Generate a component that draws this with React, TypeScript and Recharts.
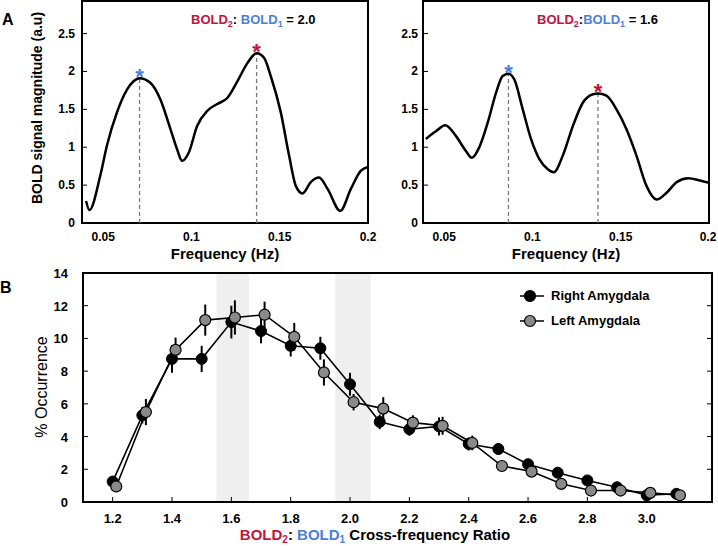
import React from "react";
import {
  ComposedChart,
  Line,
  XAxis,
  YAxis,
  ReferenceArea,
  ReferenceLine,
  ReferenceDot,
  ErrorBar,
  Legend,
} from "recharts";

const FONT = "Arial, 'Liberation Sans', Helvetica, sans-serif";
const RED = "#c0143c";
const BLUE = "#4a80d6";

// panel A, left spectrum (BOLD2:BOLD1 = 2.0)
const leftFreq = [
  0.0403, 0.0422, 0.0483, 0.0521, 0.0578, 0.0635, 0.0672, 0.0706, 0.0767, 0.0824,
  0.0881, 0.0919, 0.0947, 0.0985, 0.1032, 0.1089, 0.1146, 0.1203, 0.126, 0.1317,
  0.1369, 0.1411, 0.1449, 0.1506, 0.1553, 0.1591, 0.1629, 0.1676, 0.1723, 0.1771,
  0.1843, 0.1903, 0.196, 0.2,
];
const leftMag = [
  0.29, 0.17, 0.62, 1.02, 1.46, 1.76, 1.87, 1.91, 1.85, 1.63,
  1.24, 0.97, 0.82, 0.93, 1.28, 1.48, 1.57, 1.65, 1.87, 2.11,
  2.24, 2.18, 1.94, 1.46, 0.89, 0.49, 0.39, 0.54, 0.6, 0.45,
  0.16, 0.45, 0.69, 0.74,
];
const leftPeakFreq = [0.0706, 0.1369];
const leftPeakMag = [1.91, 2.24];

// panel A, right spectrum (BOLD2:BOLD1 = 1.6)
const rightFreq = [
  0.0396, 0.0453, 0.0506, 0.0566, 0.0623, 0.0657, 0.0699, 0.0746, 0.0794, 0.0831,
  0.0864, 0.0898, 0.0945, 0.0993, 0.104, 0.1087, 0.1121, 0.1172, 0.1229, 0.1286,
  0.1343, 0.1371, 0.1419, 0.1476, 0.1532, 0.1589, 0.1646, 0.1703, 0.176, 0.1817,
  0.1882, 0.1949, 0.2,
];
const rightMag = [
  1.11, 1.21, 1.29, 1.15, 0.95, 0.86, 1.0, 1.32, 1.72, 1.94,
  1.97, 1.89, 1.5, 1.1, 0.84, 0.71, 0.67, 0.89, 1.28, 1.59,
  1.7, 1.71, 1.68, 1.5, 1.24, 0.89, 0.49, 0.31, 0.4, 0.54,
  0.59, 0.56, 0.53,
];
const rightPeakFreq = [0.0864, 0.1371];
const rightPeakMag = [1.97, 1.71];

const peakColors = [BLUE, RED];
const freqTicks = [0.05, 0.1, 0.15, 0.2];
const magTicks = [0, 0.5, 1, 1.5, 2, 2.5];

// panel B
const ratioRight = [1.2, 1.3, 1.4, 1.5, 1.6, 1.7, 1.8, 1.9, 2.0, 2.1, 2.2, 2.3, 2.4, 2.5, 2.6, 2.7, 2.8, 2.9, 3.0, 3.1];
const occRight = [1.25, 5.3, 8.75, 8.75, 11.0, 10.45, 9.55, 9.4, 7.2, 4.9, 4.45, 4.62, 3.55, 3.24, 2.31, 1.79, 1.32, 0.9, 0.41, 0.5];
const errRight = [0.3, 0.5, 0.85, 0.8, 1.0, 0.75, 0.65, 0.7, 0.7, 0.45, 0.4, 0.55, 0.4, 0.35, 0.25, 0.2, 0.15, 0.15, 0.1, 0.1];
const ratioLeft = [1.212, 1.312, 1.412, 1.512, 1.612, 1.712, 1.812, 1.912, 2.012, 2.112, 2.212, 2.312, 2.412, 2.512, 2.612, 2.712, 2.812, 2.912, 3.012, 3.112];
const occLeft = [0.95, 5.5, 9.3, 11.12, 11.28, 11.45, 10.1, 7.92, 6.1, 5.71, 4.85, 4.66, 3.61, 2.2, 1.86, 1.11, 0.7, 0.7, 0.56, 0.41];
const errLeft = [0.2, 0.8, 0.75, 0.95, 1.05, 0.8, 0.85, 0.8, 0.5, 0.7, 0.45, 0.55, 0.45, 0.2, 0.2, 0.15, 0.1, 0.1, 0.1, 0.1];
const bandStart = [1.55, 1.95];
const bandEnd = [1.66, 2.07];
const ratioTicks = [1.2, 1.4, 1.6, 1.8, 2.0, 2.2, 2.4, 2.6, 2.8, 3.0];
const occTicks = [0, 2, 4, 6, 8, 10, 12, 14];
const legendNames = ["Right Amygdala", "Left Amygdala"];
const legendFills = ["#000000", "#8a8a8a"];

const B_RIGHT = 712;

function freqTick({ x, y, payload }: any) {
  return (
    <text x={x} y={y + 18} textAnchor="middle" fontSize={12} fontWeight="bold" fontFamily={FONT} fill="#000">
      {String(payload.value)}
    </text>
  );
}

function magTick(gap: number) {
  return ({ x, y, payload }: any) => (
    <g>
      <line x1={x} x2={x + 5} y1={y} y2={y} stroke="#000" strokeWidth={1} />
      <text x={x - gap} y={y + 4} textAnchor="end" fontSize={12} fontWeight="bold" fontFamily={FONT} fill="#000">
        {String(payload.value)}
      </text>
    </g>
  );
}

function occTick({ x, y, payload }: any) {
  return (
    <g>
      <line x1={x} x2={x + 5} y1={y} y2={y} stroke="#000" strokeWidth={1} />
      <line x1={B_RIGHT - 5} x2={B_RIGHT} y1={y} y2={y} stroke="#000" strokeWidth={1} />
      <text x={x - 15} y={y + 5} textAnchor="end" fontSize={13} fontWeight="bold" fontFamily={FONT} fill="#000">
        {String(payload.value)}
      </text>
    </g>
  );
}

function ratioTick({ x, y, payload }: any) {
  return (
    <g>
      <line x1={x} x2={x} y1={y} y2={y - 5} stroke="#000" strokeWidth={1} />
      <text x={x} y={y + 21} textAnchor="middle" fontSize={13} fontWeight="bold" fontFamily={FONT} fill="#000">
        {Number(payload.value).toFixed(1)}
      </text>
    </g>
  );
}

function Spectrum({
  freq,
  mag,
  peakFreq,
  peakMag,
  width,
  yAxisWidth,
  marginRight,
  gap,
}: {
  freq: number[];
  mag: number[];
  peakFreq: number[];
  peakMag: number[];
  width: number;
  yAxisWidth: number;
  marginRight: number;
  gap: number;
}) {
  const data = freq.map((f, i) => ({ f, v: mag[i] }));
  return (
    <ComposedChart width={width} height={262} data={data} margin={{ top: 1, right: marginRight, left: 0, bottom: 0 }}>
      <XAxis
        dataKey="f"
        type="number"
        domain={[0.038, 0.2]}
        ticks={freqTicks}
        allowDataOverflow
        axisLine={false}
        tickLine={false}
        tickSize={0}
        tickMargin={0}
        height={39}
        tick={freqTick}
        label={{
          value: "Frequency (Hz)",
          position: "insideBottom",
          offset: 3,
          fill: "#000",
          fontSize: 15,
          fontWeight: "bold",
          fontFamily: FONT,
        }}
      />
      <YAxis
        type="number"
        domain={[0, 2.93]}
        ticks={magTicks}
        allowDataOverflow
        axisLine={false}
        tickLine={false}
        tickSize={0}
        tickMargin={0}
        width={yAxisWidth}
        tick={magTick(gap)}
      />
      <ReferenceArea x1={0.038} x2={0.2} y1={0} y2={2.93} fill="none" stroke="#000" strokeWidth={2} ifOverflow="visible" />
      {peakFreq.map((f, i) => (
        <ReferenceLine
          key={`d${i}`}
          segment={[
            { x: f, y: 0 },
            { x: f, y: peakMag[i] },
          ]}
          stroke="#7a7a7a"
          strokeWidth={1.3}
          strokeDasharray="4 3"
        />
      ))}
      <Line
        dataKey="v"
        type="monotone"
        stroke="#000"
        strokeWidth={2.5}
        dot={false}
        isAnimationActive={false}
      />
      {peakFreq.map((f, i) => (
        <ReferenceDot
          key={`s${i}`}
          x={f}
          y={peakMag[i]}
          shape={(p: any) => (
            <text
              x={p.cx}
              y={p.cy + 6}
              textAnchor="middle"
              fontSize={22}
              fontWeight="bold"
              fontFamily={FONT}
              fill={peakColors[i]}
            >
              *
            </text>
          )}
        />
      ))}
    </ComposedChart>
  );
}

function renderLegend() {
  return (
    <div style={{ fontFamily: FONT, fontSize: 13, fontWeight: "bold", color: "#000" }}>
      {legendNames.map((name, i) => (
        <div key={name} style={{ display: "flex", alignItems: "center", height: 25 }}>
          <svg width={24} height={14}>
            <line x1={0} x2={24} y1={7} y2={7} stroke="#000" strokeWidth={1.5} />
            <circle cx={10} cy={7} r={5.5} fill={legendFills[i]} stroke="#000" strokeWidth={1.2} />
          </svg>
          <span style={{ marginLeft: 7 }}>{name}</span>
        </div>
      ))}
    </div>
  );
}

function Occurrence() {
  const right = ratioRight.map((r, i) => ({ r, v: occRight[i], e: errRight[i] }));
  const left = ratioLeft.map((r, i) => ({ r, v: occLeft[i], e: errLeft[i] }));
  return (
    <ComposedChart width={718} height={284} margin={{ top: 11, right: 6, left: 0, bottom: 0 }}>
      <XAxis
        dataKey="r"
        type="number"
        domain={[1.1, 3.22]}
        ticks={ratioTicks}
        allowDataOverflow
        axisLine={false}
        tickLine={false}
        tickSize={0}
        tickMargin={0}
        height={44}
        tick={ratioTick}
      />
      <YAxis
        type="number"
        domain={[0, 14]}
        ticks={occTicks}
        allowDataOverflow
        axisLine={false}
        tickLine={false}
        tickSize={0}
        tickMargin={0}
        width={83}
        tick={occTick}
      />
      {bandStart.map((s, i) => (
        <ReferenceArea key={`b${i}`} x1={s} x2={bandEnd[i]} y1={0} y2={14} fill="#efefef" fillOpacity={1} stroke="none" />
      ))}
      <ReferenceArea x1={1.1} x2={3.22} y1={0} y2={14} fill="none" stroke="#000" strokeWidth={2} ifOverflow="visible" />
      <Line
        data={right}
        dataKey="v"
        name="Right Amygdala"
        type="linear"
        stroke="#000"
        strokeWidth={1.6}
        dot={{ r: 5.5, fill: "#000", stroke: "#000", strokeWidth: 1 }}
        isAnimationActive={false}
      >
        <ErrorBar dataKey="e" direction="y" width={0} stroke="#000" strokeWidth={2} />
      </Line>
      <Line
        data={left}
        dataKey="v"
        name="Left Amygdala"
        type="linear"
        stroke="#000"
        strokeWidth={1.6}
        dot={{ r: 5.5, fill: "#8a8a8a", stroke: "#000", strokeWidth: 1.2 }}
        isAnimationActive={false}
      >
        <ErrorBar dataKey="e" direction="y" width={0} stroke="#000" strokeWidth={2} />
      </Line>
      <Legend
        layout="horizontal"
        verticalAlign="middle"
        align="center"
        content={renderLegend}
        wrapperStyle={{ left: 520, top: 21, width: 190 }}
      />
    </ComposedChart>
  );
}

export default function App() {
  return (
    <div style={{ position: "absolute", left: 0, top: 0, width: 718, height: 546, background: "#fff", overflow: "hidden" }}>
      <div style={{ position: "absolute", left: 0, top: 0 }}>
        <Spectrum freq={leftFreq} mag={leftMag} peakFreq={leftPeakFreq} peakMag={leftPeakMag} width={380} yAxisWidth={82} marginRight={12} gap={7} />
      </div>
      <div style={{ position: "absolute", left: 380, top: 0 }}>
        <Spectrum freq={rightFreq} mag={rightMag} peakFreq={rightPeakFreq} peakMag={rightPeakMag} width={338} yAxisWidth={43} marginRight={9} gap={5} />
      </div>
      <div style={{ position: "absolute", left: 0, top: 262 }}>
        <Occurrence />
      </div>
      <svg width={718} height={546} style={{ position: "absolute", left: 0, top: 0, pointerEvents: "none" }} fontFamily={FONT}>
        <text x={2} y={25} fontSize={16} fontWeight="bold" fill="#000">A</text>
        <text x={0} y={293} fontSize={16} fontWeight="bold" fill="#000">B</text>
        <text x={191} y={24} fontSize={13} fontWeight="bold" fill="#000">
          <tspan fill={RED}>BOLD</tspan>
          <tspan fill={RED} fontSize={9} dy={3}>2</tspan>
          <tspan dy={-3}>: </tspan>
          <tspan fill={BLUE}>BOLD</tspan>
          <tspan fill={BLUE} fontSize={9} dy={3}>1</tspan>
          <tspan dy={-3}> = 2.0</tspan>
        </text>
        <text x={537} y={24} fontSize={13} fontWeight="bold" fill="#000">
          <tspan fill={RED}>BOLD</tspan>
          <tspan fill={RED} fontSize={9} dy={3}>2</tspan>
          <tspan dy={-3}>:</tspan>
          <tspan fill={BLUE}>BOLD</tspan>
          <tspan fill={BLUE} fontSize={9} dy={3}>1</tspan>
          <tspan dy={-3}> = 1.6</tspan>
        </text>
        <text x={42} y={108} transform="rotate(-90 42 108)" textAnchor="middle" fontSize={14} fontWeight="bold" fill="#000">
          BOLD signal magnitude (a.u)
        </text>
        <text x={47} y={387} transform="rotate(-90 47 387)" textAnchor="middle" fontSize={16} fill="#000">
          % Occurrence
        </text>
        <text x={375} y={540} textAnchor="middle" fontSize={15} fontWeight="bold" fill="#000">
          <tspan fill={RED}>BOLD</tspan>
          <tspan fill={RED} fontSize={10} dy={3}>2</tspan>
          <tspan dy={-3}>: </tspan>
          <tspan fill={BLUE}>BOLD</tspan>
          <tspan fill={BLUE} fontSize={10} dy={3}>1</tspan>
          <tspan dy={-3}> Cross-frequency Ratio</tspan>
        </text>
      </svg>
    </div>
  );
}
